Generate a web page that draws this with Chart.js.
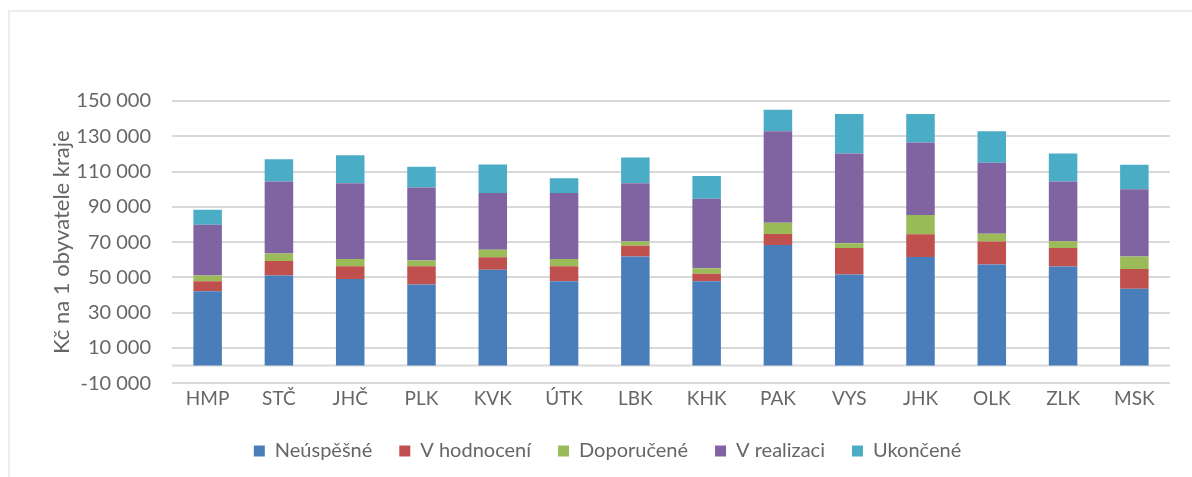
<!DOCTYPE html>
<html>
<head>
<meta charset="utf-8">
<script src="https://cdn.jsdelivr.net/npm/chart.js@4.4.1/dist/chart.umd.min.js"></script>
<style>
  html, body { margin: 0; padding: 0; background: #ffffff; }
  body { width: 1192px; height: 477px; position: relative; overflow: hidden; }
  #frame { position: absolute; left: 8px; top: 10px; width: 1200px; height: 480px;
           border-left: 2px solid #ececec; border-top: 2px solid #ececec; box-sizing: border-box; }
  #wrap { position: absolute; left: 0; top: 0; width: 1192px; height: 477px; }
</style>
</head>
<body>
<div id="frame"></div>
<div id="wrap"><canvas id="c" width="1192" height="477"></canvas></div>
<script>
// Regions (kraje)
const categories = ['HMP', 'STČ', 'JHČ', 'PLK', 'KVK', 'ÚTK', 'LBK', 'KHK', 'PAK', 'VYS', 'JHK', 'OLK', 'ZLK', 'MSK'];

// Kč per inhabitant, by project state
const neuspesne  = [42200, 51100, 49100, 45900, 54300, 47800, 61800, 47800, 68300, 51700, 61500, 57300, 56200, 43600];
const vHodnoceni = [5600, 8200, 7200, 10400, 7100, 8500, 6100, 4200, 6300, 14900, 12900, 13000, 10400, 11200];
const doporucene = [3300, 4300, 4100, 3200, 4300, 4100, 2400, 3200, 6400, 2800, 10900, 4500, 3900, 7000];
const vRealizaci = [28700, 40700, 43000, 41500, 32100, 37400, 33100, 39400, 51900, 50800, 41200, 40200, 33800, 38200];
const ukoncene   = [8600, 12700, 15800, 11700, 16200, 8400, 14500, 12900, 12100, 22400, 16100, 17900, 15900, 13800];

const seriesNames = ['Neúspěšné', 'V hodnocení', 'Doporučené', 'V realizaci', 'Ukončené'];
const seriesColors = ['#4a7ebb', '#c0504d', '#9bbb59', '#8064a2', '#4bacc6'];

// Y axis range and tick step
const yMin = -10000;
const yMax = 150000;
const yStep = 20000;

const FONT = 'Lato, "Liberation Sans", sans-serif';
const TEXT = '#666666';

const formatCz = v => {
  const s = Math.abs(v).toString().replace(/\B(?=(\d{3})+(?!\d))/g, ' ');
  return (v < 0 ? '-' : '') + s;
};

// Horizontal line at zero value
const zeroLine = {
  id: 'zeroLine',
  beforeDatasetsDraw(chart) {
    const y = chart.scales.y.getPixelForValue(0);
    const { left, right } = chart.chartArea;
    const ctx = chart.ctx;
    ctx.save();
    ctx.strokeStyle = '#d9d9d9';
    ctx.lineWidth = 2;
    ctx.beginPath();
    ctx.moveTo(left, y);
    ctx.lineTo(right, y);
    ctx.stroke();
    ctx.restore();
  }
};

const datasets = [neuspesne, vHodnoceni, doporucene, vRealizaci, ukoncene].map((d, i) => ({
  label: seriesNames[i],
  data: d,
  backgroundColor: seriesColors[i],
  borderWidth: 0,
  barPercentage: 0.4,
  categoryPercentage: 1.0
}));

new Chart(document.getElementById('c'), {
  type: 'bar',
  data: { labels: categories, datasets },
  plugins: [zeroLine],
  options: {
    responsive: false,
    animation: false,
    layout: { padding: { left: 45, right: 22, top: 101, bottom: 6 } },
    plugins: {
      tooltip: { enabled: false },
      legend: {
        position: 'bottom',
        labels: {
          boxWidth: 11, boxHeight: 11, padding: 27,
          color: TEXT,
          font: { family: FONT, size: 20 }
        }
      }
    },
    scales: {
      x: {
        stacked: true,
        grid: { display: false, drawTicks: false },
        border: { display: false },
        ticks: { color: TEXT, padding: 4, font: { family: FONT, size: 19 } }
      },
      y: {
        stacked: true,
        min: yMin,
        max: yMax,
        afterFit(scale) { scale.width = 127; },
        grid: { color: '#d9d9d9', lineWidth: 2, drawTicks: false },
        border: { display: false },
        ticks: {
          stepSize: yStep,
          padding: 21,
          color: TEXT,
          font: { family: FONT, size: 20 },
          callback: v => formatCz(v)
        },
        title: {
          display: true,
          text: 'Kč na 1 obyvatele kraje',
          color: TEXT,
          font: { family: FONT, size: 22 },
          padding: { top: 4, bottom: 0 }
        }
      }
    }
  }
});
</script>
</body>
</html>
